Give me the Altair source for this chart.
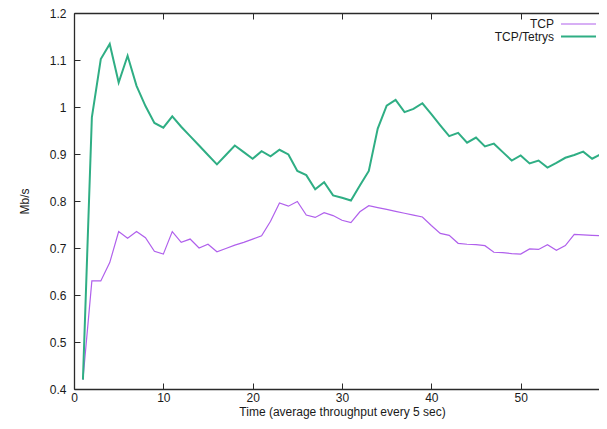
import altair as alt
import pandas as pd

time = list(range(1, 61))
tcp = [0.42, 0.63, 0.63, 0.669, 0.735, 0.721, 0.735, 0.722, 0.693, 0.687,
       0.735, 0.712, 0.719, 0.700, 0.708, 0.692, 0.699, 0.706, 0.712, 0.719,
       0.726, 0.757, 0.796, 0.789, 0.799, 0.770, 0.765, 0.775, 0.769, 0.759,
       0.754, 0.777, 0.790, 0.786, 0.782, 0.778, 0.774, 0.770, 0.766, 0.748,
       0.731, 0.727, 0.710, 0.708, 0.707, 0.705, 0.691, 0.690, 0.688, 0.687,
       0.698, 0.697, 0.707, 0.695, 0.705, 0.729, 0.728, 0.727, 0.726, 0.724]
tetrys = [0.42, 0.978, 1.102, 1.134, 1.052, 1.109, 1.045, 1.002, 0.966, 0.956,
          0.980, 0.958, 0.938, 0.918, 0.898, 0.878, 0.898, 0.918, 0.904, 0.890,
          0.906, 0.895, 0.909, 0.899, 0.864, 0.855, 0.825, 0.840, 0.812, 0.807,
          0.801, 0.833, 0.864, 0.954, 1.003, 1.015, 0.989, 0.996, 1.008, 0.985,
          0.961, 0.938, 0.945, 0.924, 0.935, 0.916, 0.922, 0.904, 0.886, 0.897,
          0.880, 0.886, 0.871, 0.881, 0.892, 0.898, 0.905, 0.890, 0.900, 0.885]
series_names = ["TCP", "TCP/Tetrys"]
colors = ["#b060ec", "#2fae84"]
widths = [1.2, 2.0]
x_ticks = [0, 10, 20, 30, 40, 50, 60]
y_ticks = [0.4, 0.5, 0.6, 0.7, 0.8, 0.9, 1.0, 1.1, 1.2]

df = pd.DataFrame({
    "t": time + time,
    "v": tcp + tetrys,
    "s": [series_names[0]] * len(time) + [series_names[1]] * len(time),
})

FONT = "Liberation Sans"
FRAME = "#2a2a2a"
W, H = 525, 376          # visible plot area (the right edge runs off the page, as in the reference)
XR = 536                 # full length of the x axis
xs = alt.Scale(domain=[0, 60], range=[0, XR], nice=False, zero=False)
ys = alt.Scale(domain=[0.4, 1.2], nice=False, zero=False)

base = alt.Chart(df)

lines = base.mark_line(clip=False).encode(
    x=alt.X("t:Q", scale=xs, axis=alt.Axis(values=x_ticks, ticks=False, domain=True, grid=False,
                                            labelPadding=3, labelFlush=False,
                                            title="Time (average throughput every 5 sec)",
                                            titlePadding=3)),
    y=alt.Y("v:Q", scale=ys, axis=alt.Axis(values=y_ticks, ticks=False, domain=True, grid=False,
                                            labelPadding=8, format="~g", labelFlush=False,
                                            title="Mb/s", titlePadding=18)),
    color=alt.Color("s:N", scale=alt.Scale(domain=series_names, range=colors), legend=None),
    strokeWidth=alt.StrokeWidth("s:N", scale=alt.Scale(domain=series_names, range=widths), legend=None),
)

inner_ticks = base.mark_point(opacity=0).encode(
    x=alt.X("t:Q", scale=xs, axis=alt.Axis(orient="bottom", values=x_ticks, labels=False, domain=False,
                                            grid=False, ticks=True, tickSize=6, offset=-6, title=None)),
    y=alt.Y("v:Q", scale=ys, axis=alt.Axis(orient="left", values=y_ticks, labels=False, domain=False,
                                            grid=False, ticks=True, tickSize=6, offset=-6, title=None)),
)

top_ticks = base.mark_point(opacity=0).encode(
    x=alt.X("t:Q", scale=xs, axis=alt.Axis(orient="top", values=x_ticks, labels=False, domain=False,
                                            grid=False, ticks=True, tickSize=6, offset=-6, title=None)),
    y=alt.Y("v:Q", scale=ys, axis=None),
)

top_frame = base.mark_point(opacity=0).encode(
    x=alt.X("t:Q", scale=xs, axis=alt.Axis(orient="top", values=x_ticks, labels=False, domain=True,
                                            grid=False, ticks=False, title=None)),
    y=alt.Y("v:Q", scale=ys, axis=None),
)

one = pd.DataFrame({"a": [0]})
legend_layers = []
for i, name in enumerate(series_names):
    yy = 11 + 12.5 * i
    legend_layers.append(
        alt.Chart(one).mark_text(align="right", baseline="middle", font=FONT, fontSize=12, color="#1a1a1a")
        .encode(x=alt.value(480), y=alt.value(yy), text=alt.value(name))
    )
    legend_layers.append(
        alt.Chart(one).mark_rule(color=colors[i], strokeWidth=widths[i])
        .encode(x=alt.value(487), x2=alt.value(522), y=alt.value(yy))
    )

chart = alt.layer(
    lines, inner_ticks, top_ticks, top_frame, *legend_layers
).resolve_scale(x="independent", y="independent").properties(
    width=W, height=H,
    autosize=alt.AutoSizeParams(type="none"),
    padding={"left": 66, "top": 5, "right": 0, "bottom": 32},
).configure_view(stroke=None).configure_axis(
    labelFont=FONT, labelFontSize=12, labelColor="#1a1a1a",
    titleFont=FONT, titleFontSize=12, titleColor="#1a1a1a", titleFontWeight="normal",
    tickColor=FRAME, tickWidth=1, domainColor=FRAME, domainWidth=1.3,
)

chart.save("out.html", embed_options={"renderer": "svg", "actions": False})
